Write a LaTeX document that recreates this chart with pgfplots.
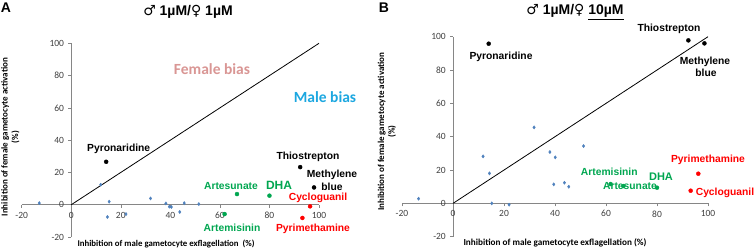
\documentclass[border=0pt]{standalone}
\usepackage{pgfplots}
\pgfplotsset{compat=1.18}
\usepackage{fontspec}
\setmainfont{Liberation Sans}
\newfontfamily\carlito{Carlito}
\newfontfamily\dejavu{DejaVu Sans}
\definecolor{axgray}{HTML}{868686}
\definecolor{ticktxt}{HTML}{404040}
\definecolor{ptblue}{HTML}{4F81BD}
\definecolor{fem}{HTML}{D99694}
\definecolor{male}{HTML}{1CA7E0}
\definecolor{grn}{HTML}{00A650}
\definecolor{rd}{HTML}{FF0000}
\pgfplotsset{myax/.style={
  scale only axis, axis lines=middle, axis line style={axgray, line width=0.75pt, -},
  xmin=-20, xmax=100, ymin=-20, ymax=100, enlargelimits=false,
  xtick={-20,0,...,100}, ytick={-20,0,...,100},
  hide obscured x ticks=false, hide obscured y ticks=false,
  tick align=outside, major tick length=3pt, tick style={axgray, line width=0.6pt},
  ticklabel style={font=\carlito\fontsize{9.5}{10}\selectfont, text=ticktxt, inner sep=0pt},
  yticklabel style={anchor=east, xshift=-4pt},
  xticklabel style={anchor=north, yshift=-4pt},
  /pgf/number format/assume math mode=true,
  clip=false,
}}
\begin{document}
\begin{tikzpicture}
\useasboundingbox (0,0) rectangle (754pt,249pt);
% ---------- Panel A
\begin{axis}[myax, at={(21.7pt,12pt)}, anchor=south west, width=297.3pt, height=193.7pt]
\addplot[only marks, mark=diamond*, mark size=1.6pt, color=ptblue] coordinates {
(-12.9,1.0)(11.9,12.4)(15.3,1.9)(14.6,-7.6)(22.1,-5.8)(32.0,3.9)(38.2,0.8)(39.6,-1.2)(40.4,-1.4)(43.8,-4.5)(45.6,1.0)(51.5,0.4)};
\addplot[black, line width=0.8pt, no marks] coordinates {(0,0)(100,100)};
\addplot[only marks, mark=*, mark size=2pt, black] coordinates {(14.1,26.6)(92.4,23.3)(98.0,10.7)};
\addplot[only marks, mark=*, mark size=2pt, grn] coordinates {(61.9,-5.8)(66.9,6.6)(80.0,5.6)};
\addplot[only marks, mark=*, mark size=2pt, rd] coordinates {(93.3,-8.2)(96.4,-1.0)};
\end{axis}
% ---------- Panel B
\begin{axis}[myax, at={(402pt,12.3pt)}, anchor=south west, width=306pt, height=200pt]
\addplot[only marks, mark=diamond*, mark size=1.6pt, color=ptblue] coordinates {
(-13.5,2.8)(11.8,28.2)(14.3,18.0)(15.2,0)(22.0,-0.8)(31.8,45.6)(38.0,30.8)(39.5,11.4)(40.1,27.6)(43.7,12.4)(45.4,10.0)(51.2,34.4)};
\addplot[black, line width=0.8pt, no marks] coordinates {(0,0)(100,100)};
\addplot[only marks, mark=*, mark size=2pt, black] coordinates {(14.0,95.8)(92.3,97.8)(98.6,96.0)};
\addplot[only marks, mark=*, mark size=2pt, grn] coordinates {(61.8,11.6)(66.8,10.4)(80.0,9.4)};
\addplot[only marks, mark=*, mark size=2pt, rd] coordinates {(93.2,7.6)(96.2,17.8)};
\end{axis}
% ---------- Titles
\node[font=\bfseries\fontsize{14}{16}\selectfont] at (6pt,241pt) {A};
\node[font=\bfseries\fontsize{14}{16}\selectfont] at (384pt,241pt) {B};
\node[font=\bfseries\fontsize{14}{16}\selectfont] at (188pt,237pt) {{\dejavu\mdseries ♂} 1µM/{\dejavu\mdseries ♀} 1µM};
\node[font=\bfseries\fontsize{14}{16}\selectfont] at (575pt,237pt) {{\dejavu\mdseries ♂} 1µM/{\dejavu\mdseries ♀} \underline{10µM}};
% ---------- Axis labels
\node[font=\carlito\bfseries\fontsize{9}{10.5}\selectfont, rotate=90, align=center] at (10.5pt,112pt) {Inhibition of female gametocyte activation\\(\%)};
\node[font=\carlito\bfseries\fontsize{9}{10.5}\selectfont, rotate=90, align=center] at (387pt,117.3pt) {Inhibition of female gametocyte activation\\(\%)};
\node[font=\carlito\bfseries\fontsize{8.8}{10}\selectfont] at (166pt,5.3pt) {Inhibition of male gametocyte exflagellation~~(\%)};
\node[font=\carlito\bfseries\fontsize{9.2}{10}\selectfont] at (555pt,5.7pt) {Inhibition of male gametocyte exflagellation (\%)};
% ---------- Panel A annotations
\node[font=\carlito\bfseries\fontsize{15.5}{17}\selectfont, text=fem] at (212pt,180pt) {Female bias};
\node[font=\carlito\bfseries\fontsize{15.5}{17}\selectfont, text=male] at (325pt,152.3pt) {Male bias};
\begin{scope}[every node/.style={font=\bfseries\fontsize{10.3}{12}\selectfont}]
\node at (118.7pt,99.7pt) {Pyronaridine};
\node at (308pt,92pt) {Thiostrepton};
\node at (332pt,74.3pt) {Methylene};
\node at (332pt,61.7pt) {blue};
\node[text=grn] at (231pt,63.3pt) {Artesunate};
\node[text=grn, font=\bfseries\fontsize{12}{14}\selectfont] at (279pt,63.3pt) {DHA};
\node[text=rd] at (318pt,51pt) {Cycloguanil};
\node[text=grn] at (232pt,20.7pt) {Artemisinin};
\node[text=rd] at (313pt,19.7pt) {Pyrimethamine};
% ---------- Panel B annotations
\node at (669pt,220pt) {Thiostrepton};
\node at (501pt,191.7pt) {Pyronaridine};
\node at (705pt,187pt) {Methylene};
\node at (706pt,175.7pt) {blue};
\node[text=rd] at (708pt,89pt) {Pyrimethamine};
\node[text=grn] at (609.3pt,76.7pt) {Artemisinin};
\node[text=grn, font=\bfseries\fontsize{11}{13}\selectfont] at (661pt,72.3pt) {DHA};
\node[text=grn] at (630pt,63.3pt) {Artesunate};
\node[text=rd] at (725pt,55.7pt) {Cycloguanil};
\end{scope}
\end{tikzpicture}
\end{document}
